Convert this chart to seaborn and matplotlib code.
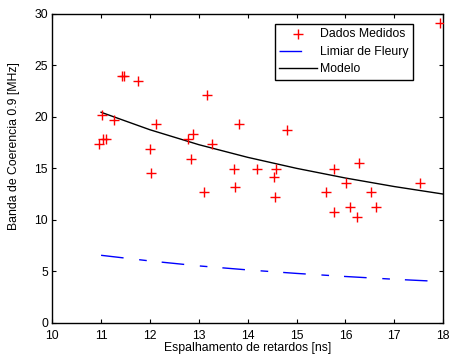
import matplotlib
matplotlib.use("Agg")
import matplotlib.pyplot as plt
import seaborn as sns
import pandas as pd

# Measured data (delay spread [ns], coherence bandwidth 0.9 [MHz])
medidos_x = [11.43, 11.47, 11.76, 13.16, 11.01, 11.26, 12.12, 10.95, 11.03, 11.11,
             12.00, 12.77, 12.89, 13.27, 12.84, 12.03, 13.10, 13.83, 14.81, 13.72,
             14.19, 14.57, 14.53, 15.77, 13.74, 14.55, 15.61, 15.77, 16.27, 16.01,
             17.53, 16.52, 16.10, 16.62, 16.24, 17.93]
medidos_y = [24.0, 24.0, 23.46, 22.1, 20.18, 19.7, 19.31, 17.4, 17.85, 17.85,
             16.9, 17.88, 18.34, 17.37, 15.94, 14.52, 12.67, 19.28, 18.73, 14.97,
             14.97, 14.97, 14.13, 14.97, 13.16, 12.19, 12.7, 10.79, 15.49, 13.6,
             13.6, 12.7, 11.27, 11.27, 10.3, 29.15]

# Fleury threshold curve
fleury_x = [11.0, 12.0, 13.0, 14.0, 15.0, 16.0, 17.0, 17.7]
fleury_y = [6.55, 6.0, 5.52, 5.13, 4.79, 4.49, 4.22, 4.06]

# Model curve
modelo_x = [11.0, 12.0, 13.0, 14.0, 15.0, 16.0, 17.0, 18.0]
modelo_y = [20.45, 18.75, 17.3, 16.07, 15.0, 14.06, 13.23, 12.5]

xticks = [10, 11, 12, 13, 14, 15, 16, 17, 18]
yticks = [0, 5, 10, 15, 20, 25, 30]

plt.rcParams['font.family'] = ['Liberation Sans', 'DejaVu Sans']
plt.rcParams['font.size'] = 8.8

fig = plt.figure(figsize=(4.5, 3.58), dpi=100)
ax = fig.add_axes([0.116, 0.0986, 0.869, 0.8623])

df_m = pd.DataFrame({"x": medidos_x, "y": medidos_y})
df_f = pd.DataFrame({"x": fleury_x, "y": fleury_y})
df_mod = pd.DataFrame({"x": modelo_x, "y": modelo_y})

sns.scatterplot(data=df_m, x="x", y="y", marker="+", color="red", s=45,
                linewidth=1.0, ax=ax, label="Dados Medidos", zorder=3)
sns.lineplot(data=df_f, x="x", y="y", color="blue", linewidth=1.0, ax=ax,
             label="Limiar de Fleury", dashes=False)
ax.lines[-1].set_dashes([16.3, 11.3, 5.5, 10.8])
sns.lineplot(data=df_mod, x="x", y="y", color="black", linewidth=1.0, ax=ax,
             label="Modelo")

ax.set_xlim(10, 18)
ax.set_ylim(0, 30)
ax.set_xticks(xticks)
ax.set_yticks(yticks)
ax.set_xticklabels([str(t) for t in xticks])
ax.set_yticklabels([str(t) for t in yticks])
ax.tick_params(direction="in", top=True, right=True, length=3, width=0.8)
ax.tick_params(axis="x", pad=5)
ax.tick_params(axis="y", pad=3)
for s in ax.spines.values():
    s.set_linewidth(1.0)
    s.set_color("black")

ax.set_xlabel("Espalhamento de retardos [ns]", labelpad=0)
ax.set_ylabel("Banda de Coerencia 0.9 [MHz]", labelpad=6)
ax.yaxis.set_label_coords(-0.082, 0.572)

leg = ax.legend(loc="upper right", bbox_to_anchor=(0.923, 0.967), frameon=True,
                fancybox=False, edgecolor="black", framealpha=1,
                handlelength=3.1, borderpad=0.35, labelspacing=0.45,
                handletextpad=0.3, borderaxespad=0)
leg.get_frame().set_linewidth(1.0)

fig.savefig("out.png", dpi=100)
